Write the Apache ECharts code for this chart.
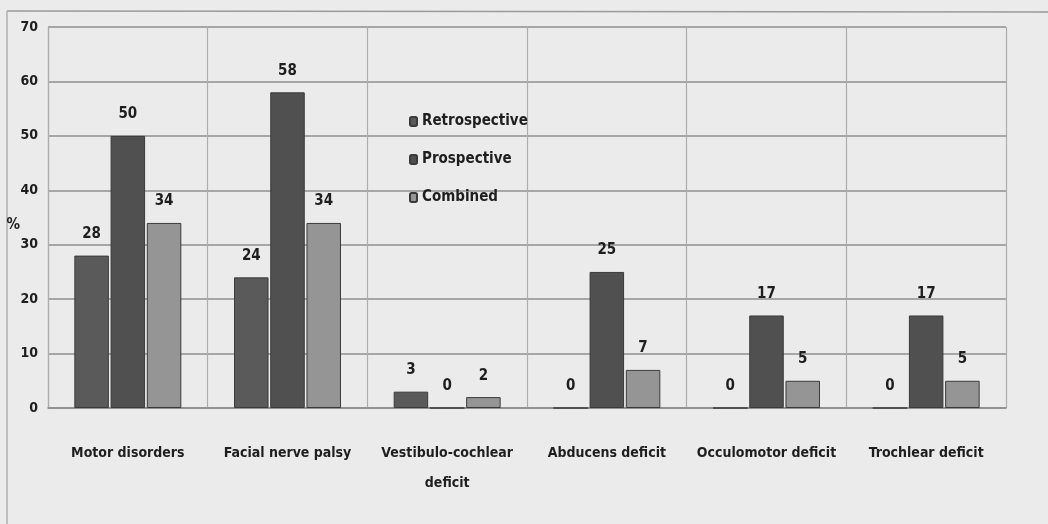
<!DOCTYPE html>
<html>
<head>
<meta charset="utf-8">
<script src="https://cdn.jsdelivr.net/npm/echarts@6/dist/echarts.min.js"></script>
<style>
html,body{margin:0;padding:0;background:#ebebeb;}
#c{width:1048px;height:524px;}
</style>
</head>
<body>
<div id="c"></div>
<script>
const categories = ['Motor disorders', 'Facial nerve palsy', 'Vestibulo-cochlear\ndeficit', 'Abducens deficit', 'Occulomotor deficit', 'Trochlear deficit'];
const retrospective = [28, 24, 3, 0, 0, 0];
const prospective = [50, 58, 0, 25, 17, 17];
const combined = [34, 34, 2, 7, 5, 5];
const yTicks = [0, 10, 20, 30, 40, 50, 60, 70];

const FONT = '"Liberation Sans Narrow", "DejaVu Sans Condensed", sans-serif';
const chart = echarts.init(document.getElementById('c'));
const labelStyle = {
  show: true, position: 'top', distance: 14,
  fontFamily: FONT, fontWeight: 'bold', fontSize: 15, color: '#1e1e1e'
};
function barSeries(name, data, color) {
  return {
    name: name, type: 'bar', data: data,
    barGap: '5%', barCategoryGap: '33%',
    itemStyle: { color: color, borderColor: '#3a3a3a', borderWidth: 1 },
    label: labelStyle
  };
}
chart.setOption({
  backgroundColor: '#ebebeb',
  animation: false,
  graphic: [
    { type: 'line', shape: { x1: 7, y1: 11, x2: 1048, y2: 12 }, style: { stroke: '#9a9a9a', lineWidth: 1.5 } },
    { type: 'line', shape: { x1: 7, y1: 11, x2: 7, y2: 524 }, style: { stroke: '#b0b0b0', lineWidth: 1.5 } }
  ],
  grid: { left: 48, right: 42, top: 27, bottom: 116, containLabel: false, outerBoundsMode: 'none' },
  legend: {
    orient: 'vertical', left: 404, top: 109, itemGap: 23,
    itemWidth: 7, itemHeight: 9,
    textStyle: { fontFamily: FONT, fontWeight: 'bold', fontSize: 15, color: '#1e1e1e' },
    data: ['Retrospective', 'Prospective', 'Combined']
  },
  xAxis: {
    type: 'category', data: categories,
    axisLine: { show: true, lineStyle: { color: '#8a8a8a', width: 1.5 } },
    axisTick: { show: false },
    splitLine: { show: true, lineStyle: { color: '#adadad', width: 1.2 } },
    axisLabel: {
      interval: 0, margin: 30, lineHeight: 30,
      fontFamily: FONT, fontWeight: 'bold', fontSize: 14, color: '#1e1e1e'
    }
  },
  yAxis: {
    type: 'value', min: yTicks[0], max: yTicks[yTicks.length - 1], interval: 10,
    name: '%', nameLocation: 'middle', nameRotate: 0, nameGap: 28, nameMoveOverlap: false,
    nameTextStyle: { fontFamily: FONT, fontWeight: 'bold', fontSize: 15, color: '#1e1e1e', verticalAlign: 'top' },
    axisLine: { show: true, lineStyle: { color: '#adadad', width: 1.2 } },
    axisTick: { show: false },
    splitLine: { show: true, lineStyle: { color: '#8f8f8f', width: 1.5 } },
    axisLabel: { margin: 10, fontFamily: FONT, fontWeight: 'bold', fontSize: 14, color: '#1e1e1e' }
  },
  series: [
    barSeries('Retrospective', retrospective, '#5a5a5a'),
    barSeries('Prospective', prospective, '#505050'),
    barSeries('Combined', combined, '#959595')
  ]
});
</script>
</body>
</html>
